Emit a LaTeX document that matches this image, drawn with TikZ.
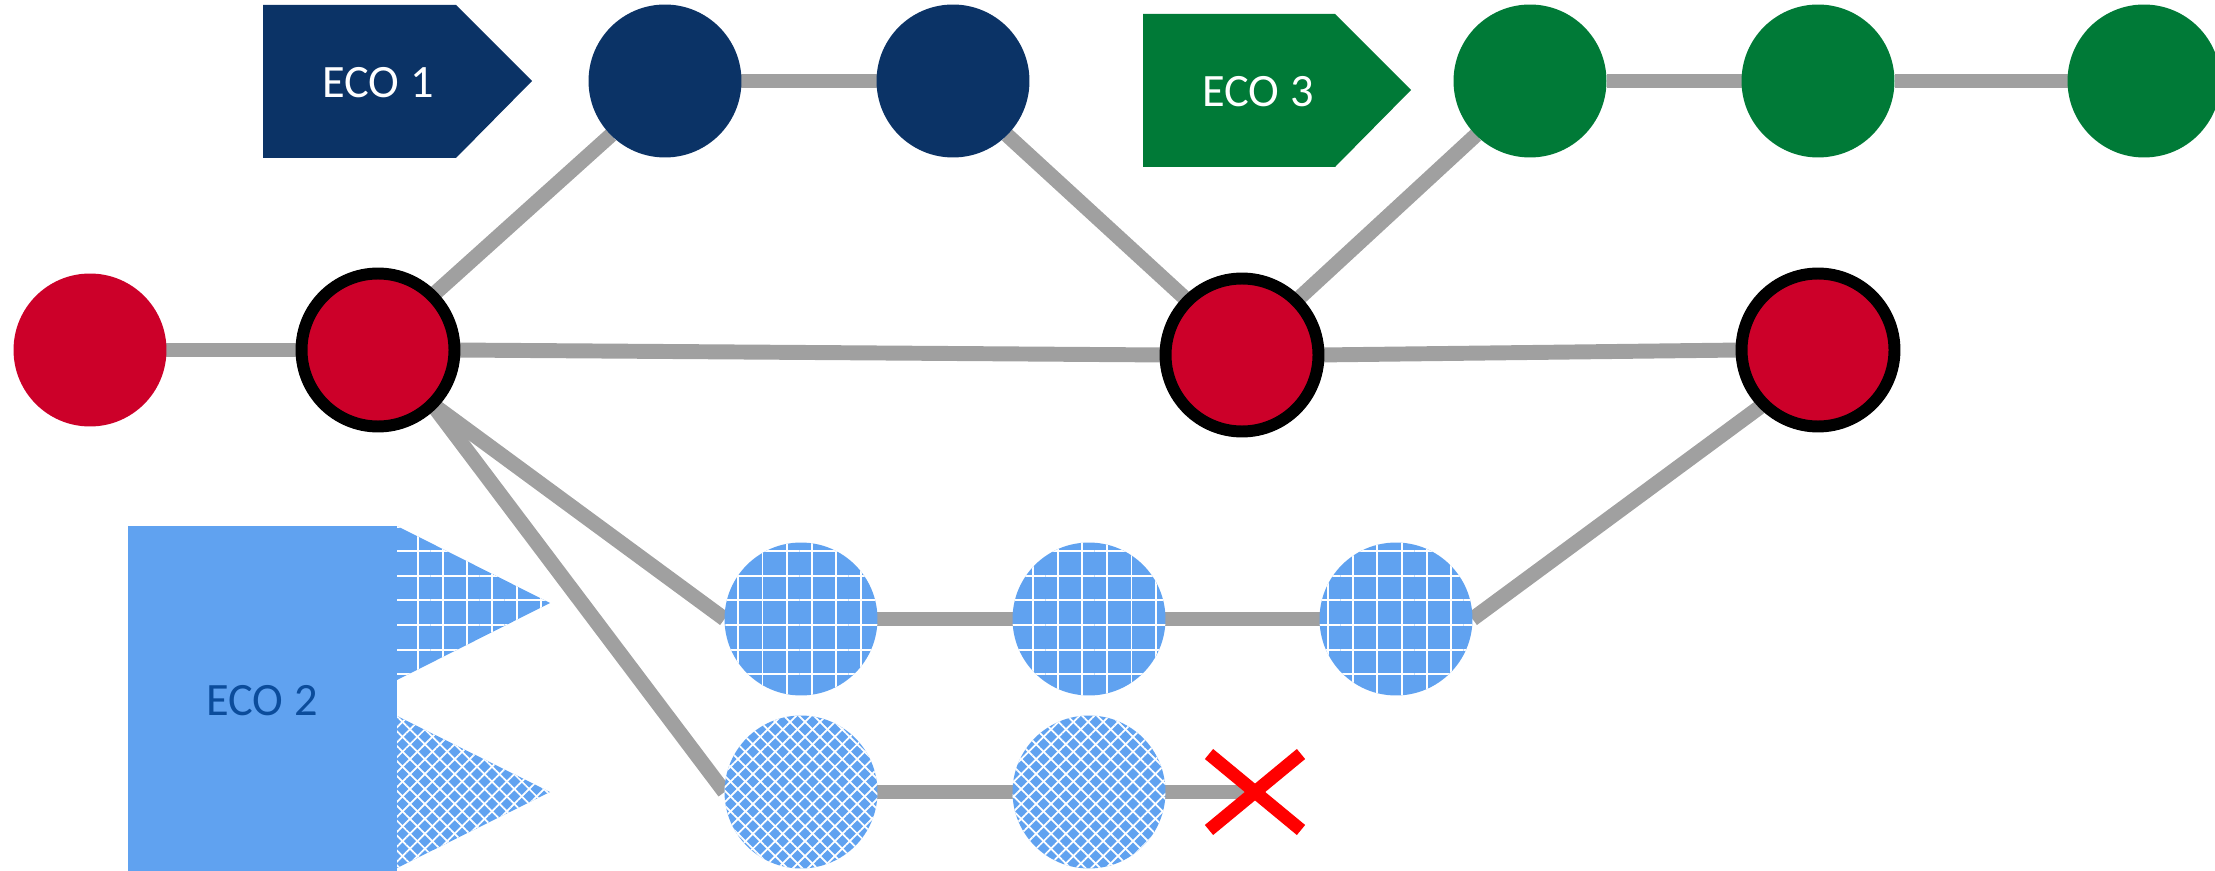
\documentclass[tikz,border=0pt]{standalone}
\usepackage{fontspec}
\setmainfont{Carlito}
\usetikzlibrary{patterns.meta,backgrounds,calc}
\definecolor{cred}{HTML}{CC0029}
\definecolor{cnavy}{HTML}{0B3366}
\definecolor{cgreen}{HTML}{007A37}
\definecolor{cblue}{HTML}{60A2F0}
\definecolor{cgray}{HTML}{A0A0A0}
\definecolor{ctext}{HTML}{0B4C9B}
\begin{document}
\begin{tikzpicture}[x=0.02cm,y=-0.02cm,
  disc/.style={circle, inner sep=0pt, outer sep=0pt, minimum size=3.06cm},
  reddisc/.style={disc, fill=cred},
  ringdisc/.style={disc, fill=cred, draw=black, line width=6.8pt},
  navydisc/.style={disc, fill=cnavy},
  greendisc/.style={disc, fill=cgreen},
  gridfill/.style={fill=cblue,
    postaction={pattern={Lines[angle=0,distance=14pt,line width=1.1pt]}, pattern color=white},
    postaction={pattern={Lines[angle=90,distance=14pt,line width=1.1pt]}, pattern color=white}},
  diafill/.style={fill=cblue,
    postaction={pattern={Lines[angle=45,distance=6pt,line width=1pt]}, pattern color=white},
    postaction={pattern={Lines[angle=-45,distance=6pt,line width=1pt]}, pattern color=white}},
  griddisc/.style={disc, gridfill},
  diadisc/.style={disc, diafill},
  conn/.style={draw=cgray, line width=8.5pt},
  ecotext/.style={font=\fontsize{26.4}{30}\selectfont, inner sep=0pt},
  redx/.style={draw=red, line width=7.4pt}
]
\path[use as bounding box] (0,0) rectangle (2215,871);

% ECO banners
\fill[cnavy] (263,5) -- (456,5) -- (532,81) -- (456,158) -- (263,158) -- cycle;
\node[ecotext, text=white] (eco1) at (378,83) {ECO 1};
\fill[cgreen] (1143,14) -- (1335,14) -- (1411,90) -- (1335,167) -- (1143,167) -- cycle;
\node[ecotext, text=white] (eco3) at (1258,92) {ECO 3};

% ECO 2 block
\fill[cblue] (128,526) rectangle (397,871);
\path[gridfill] (397,526) -- (550,603) -- (397,680) -- cycle;
\path[diafill] (397,716) -- (550,792) -- (397,868) -- cycle;
\node[ecotext, text=ctext] (eco2) at (262,701) {ECO 2};

% main line
\node[reddisc] (r1) at (90,350) {};
\node[ringdisc] (r2) at (378,350) {};
\node[ringdisc] (r3) at (1242,355) {};
\node[ringdisc] (r4) at (1818,350) {};
% ECO 1 branch
\node[navydisc] (b1) at (665,81) {};
\node[navydisc] (b2) at (953,81) {};
% ECO 3 branch
\node[greendisc] (g1) at (1530,81) {};
\node[greendisc] (g2) at (1818,81) {};
\node[greendisc] (g3) at (2144,81) {};
% ECO 2 branches
\node[griddisc] (q1) at (801,619) {};
\node[griddisc] (q2) at (1089,619) {};
\node[griddisc] (q3) at (1396,619) {};
\node[diadisc] (d1) at (801,792) {};
\node[diadisc] (d2) at (1089,792) {};

\coordinate (xc) at (1255,792);

\begin{scope}[on background layer]
  \draw[conn] (r1.east) -- (r2.west);
  \draw[conn] (r2.north east) -- (b1.south west);
  \draw[conn] (b1.east) -- (b2.west);
  \draw[conn] (b2.south east) -- (r3.north west);
  \draw[conn] (r2.east) -- (r3.west);
  \draw[conn] (r3.north east) -- (g1.south west);
  \draw[conn] (g1.east) -- (g2.west);
  \draw[conn] (g2.east) -- (g3.west);
  \draw[conn] (r3.east) -- (r4.west);
  \draw[conn] (r2.south east) -- (q1.west);
  \draw[conn] (r2.south east) -- (d1.west);
  \draw[conn] (q1.east) -- (q2.west);
  \draw[conn] (q2.east) -- (q3.west);
  \draw[conn] (q3.east) -- (r4.south west);
  \draw[conn] (d1.east) -- (d2.west);
  \draw[conn] (d2.east) -- (xc);
\end{scope}

\draw[redx] ($(xc)+(-46,-38)$) -- ($(xc)+(46,38)$);
\draw[redx] ($(xc)+(46,-38)$) -- ($(xc)+(-46,38)$);
\end{tikzpicture}
\end{document}
